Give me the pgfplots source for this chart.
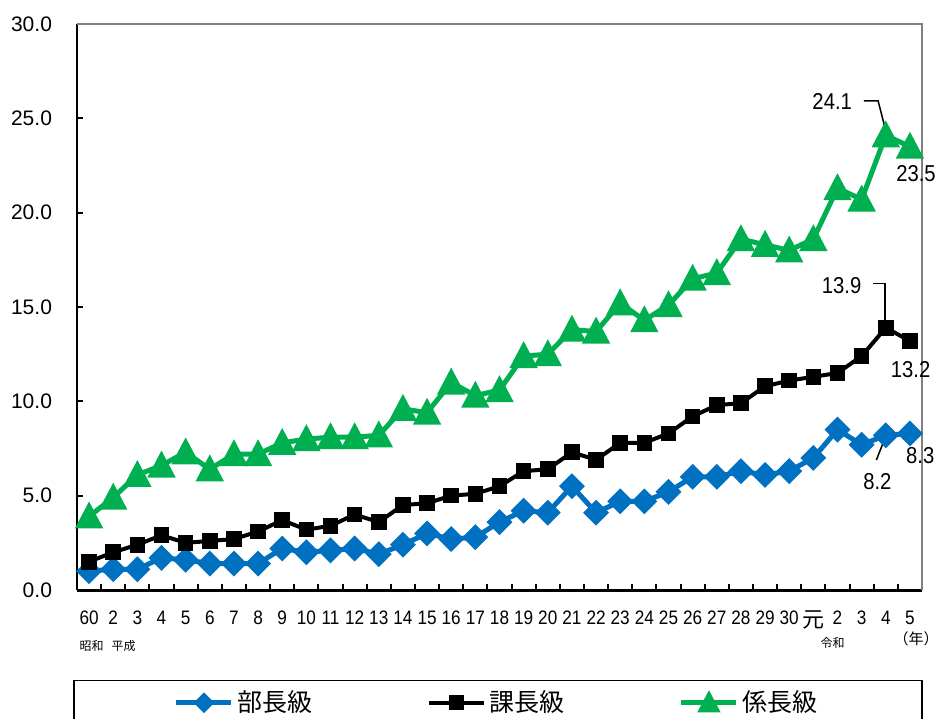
\documentclass[border=0pt]{standalone}
\usepackage{fontspec}
\setmainfont{Liberation Sans}
\newfontfamily\narrow{Liberation Sans}[FakeStretch=0.88]
\newfontfamily\jp{Noto Sans CJK JP}
\usepackage{pgfplots}
\usepackage{pgfplotstable}
\pgfplotsset{compat=1.18}

\definecolor{bucho}{HTML}{0070C0}
\definecolor{kakari}{HTML}{00B050}
\definecolor{framegray}{HTML}{808080}

% upright diamond, centred
\pgfdeclareplotmark{rdiamond}{%
  \pgfpathmoveto{\pgfqpoint{0pt}{\pgfplotmarksize}}%
  \pgfpathlineto{\pgfqpoint{\pgfplotmarksize}{0pt}}%
  \pgfpathlineto{\pgfqpoint{0pt}{-\pgfplotmarksize}}%
  \pgfpathlineto{\pgfqpoint{-\pgfplotmarksize}{0pt}}%
  \pgfpathclose\pgfusepathqfillstroke}
% square
\pgfdeclareplotmark{bsquare}{%
  \pgfpathrectangle{\pgfqpoint{-\pgfplotmarksize}{-\pgfplotmarksize}}%
    {\pgfqpoint{2\pgfplotmarksize}{2\pgfplotmarksize}}%
  \pgfusepathqfillstroke}
% triangle centred on its bounding box
\pgfdeclareplotmark{btri}{%
  \pgfpathmoveto{\pgfqpoint{0pt}{0.9\pgfplotmarksize}}%
  \pgfpathlineto{\pgfqpoint{0.95\pgfplotmarksize}{-0.9\pgfplotmarksize}}%
  \pgfpathlineto{\pgfqpoint{-0.95\pgfplotmarksize}{-0.9\pgfplotmarksize}}%
  \pgfpathclose\pgfusepathqfillstroke}

% share of women by position (%), 昭和60 ... 令和5
\pgfplotstableread{
i  bucho kacho kakari
0  1.0   1.5   3.9
1  1.1   2.0   4.9
2  1.1   2.4   6.1
3  1.7   2.9   6.6
4  1.6   2.5   7.3
5  1.4   2.6   6.4
6  1.4   2.7   7.2
7  1.4   3.1   7.2
8  2.2   3.7   7.8
9  2.0   3.2   8.0
10 2.1   3.4   8.1
11 2.2   4.0   8.1
12 1.9   3.6   8.2
13 2.4   4.5   9.6
14 3.0   4.6   9.4
15 2.7   5.0   11.0
16 2.8   5.1   10.3
17 3.6   5.5   10.6
18 4.2   6.3   12.4
19 4.1   6.4   12.5
20 5.5   7.3   13.8
21 4.1   6.9   13.7
22 4.7   7.8   15.2
23 4.7   7.8   14.3
24 5.2   8.3   15.1
25 6.0   9.2   16.5
26 6.0   9.8   16.8
27 6.3   9.9   18.6
28 6.1   10.8  18.3
29 6.3   11.1  18.0
30 7.0   11.3  18.6
31 8.5   11.5  21.3
32 7.7   12.4  20.7
33 8.2   13.9  24.1
34 8.3   13.2  23.5
}\shares

\begin{document}
\begin{tikzpicture}
\begin{axis}[
  name=ax,
  scale only axis,
  width=422.5pt, height=283pt,
  xmin=-0.5, xmax=34.5, ymin=0, ymax=30,
  clip=false,
  axis x line*=bottom, axis y line*=left,
  x axis line style={line width=1.5pt, black},
  y axis line style={line width=1pt, black},
  tick align=inside,
  major tick length=3pt,
  tick style={black, line width=1pt},
  ytick={0,5,...,30},
  yticklabel style={/pgf/number format/fixed, /pgf/number format/fixed zerofill, /pgf/number format/precision=1},
  y tick label style={font=\fontsize{10.5}{12}\selectfont, xshift=-9pt},
  /pgf/number format/assume math mode=true,
  xtick={0.5,1.5,...,33.5},
  xticklabels={},
  extra x ticks={0,1,...,34},
  extra x tick labels={60,2,3,4,5,6,7,8,9,10,11,12,13,14,15,16,17,18,19,20,21,22,23,24,25,26,27,28,29,30,{\jp\fontsize{11}{12}\selectfont 元},2,3,4,5},
  extra x tick style={major tick length=0pt},
  x tick label style={font=\narrow\fontsize{9.75}{10}\selectfont, yshift=-7pt},
  legend columns=3,
  legend cell align=left,
  legend style={at={(0.4982,-0.159)}, anchor=north, draw=black, line width=0.75pt,
    font=\jp\fontsize{12.5}{14}\selectfont, inner xsep=50pt, inner ysep=3pt,
    /tikz/every even column/.append style={column sep=55pt}},
]
% gray top and right frame
\draw[framegray, line width=0.75pt] (rel axis cs:0,1) -- (rel axis cs:1,1) -- (rel axis cs:1,0);

\addplot[color=bucho, line width=2.5pt, mark=rdiamond, mark size=4.7pt, mark options={solid},
  legend image code/.code={%
    \draw[bucho, line width=2.5pt] (0pt,0pt) -- (27.5pt,0pt);
    \draw[bucho, mark=rdiamond, mark size=3.4pt, mark options={solid}] plot coordinates {(13.75pt,0pt)};}]
  table[x=i, y=bucho] {\shares};
\addlegendentry{部長級}
\addplot[color=black, line width=2pt, mark=bsquare, mark size=2.9pt, mark options={solid},
  legend image code/.code={%
    \draw[black, line width=2pt] (0pt,0pt) -- (27.5pt,0pt);
    \draw[black, mark=bsquare, mark size=2.8pt, mark options={solid}] plot coordinates {(13.75pt,0pt)};}]
  table[x=i, y=kacho] {\shares};
\addlegendentry{課長級}
\addplot[color=kakari, line width=2.5pt, mark=btri, mark size=5.3pt, mark options={solid},
  legend image code/.code={%
    \draw[kakari, line width=2.5pt] (0pt,0pt) -- (27.5pt,0pt);
    \draw[kakari, mark=btri, mark size=4pt, mark options={solid}] plot coordinates {(13.75pt,0pt)};}]
  table[x=i, y=kakari] {\shares};
\addlegendentry{係長級}

% value callouts
\begin{scope}[font=\narrow\fontsize{11.5}{12}\selectfont]
\node[inner sep=0pt] at (axis cs:30.78,25.88) {24.1};
\draw[line width=0.75pt] (axis cs:32.09,25.93) -- (axis cs:32.68,25.93) -- (axis cs:33.03,24.2);
\node[inner sep=0pt, anchor=west] at (axis cs:33.42,22.08) {23.5};
\node[inner sep=0pt] at (axis cs:31.17,16.16) {13.9};
\draw[line width=0.75pt] (axis cs:32.48,16.25) -- (axis cs:32.96,16.25) -- (axis cs:32.96,14.1);
\node[inner sep=0pt] at (axis cs:34.03,11.70) {13.2};
\node[inner sep=0pt, anchor=west] at (axis cs:33.83,7.15) {8.3};
\node[inner sep=0pt] at (axis cs:32.65,5.74) {8.2};
\draw[line width=0.75pt] (axis cs:32.61,6.89) -- (axis cs:33.0,8.16);
\end{scope}

% era names under the year numbers
\node[anchor=west, inner sep=0pt, font=\jp\fontsize{6}{7}\selectfont] at (axis cs:-0.41,-2.97) {昭和\hspace{4pt}平成};
\node[inner sep=0pt, font=\jp\fontsize{6}{7}\selectfont] at (axis cs:30.8,-2.81) {令和};
\node[inner sep=0pt, font=\jp\fontsize{7.5}{8}\selectfont] at (axis cs:34.26,-2.60) {（年）};
\end{axis}
\pgfresetboundingbox
\useasboundingbox ([shift={(-38.5pt,-64pt)}]ax.south west) rectangle ([shift={(430pt,295pt)}]ax.south west);
\end{tikzpicture}
\end{document}
